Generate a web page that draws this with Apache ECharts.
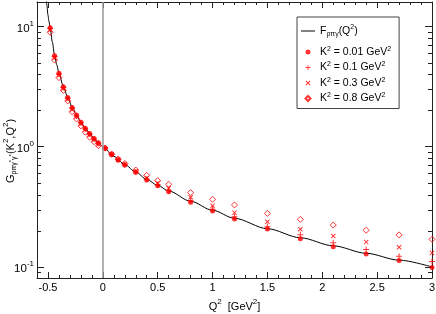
<!DOCTYPE html>
<html><head><meta charset="utf-8">
<script src="https://cdn.jsdelivr.net/npm/echarts@6/dist/echarts.min.js"></script>
<style>html,body{margin:0;padding:0;background:#fff}#c{width:436px;height:314px}</style>
</head><body><div id="c"></div>
<script>
// Q^2 values of the points [GeV^2]
const qPoints = [-0.48,-0.44,-0.40,-0.36,-0.32,-0.28,-0.24,-0.20,-0.16,-0.12,-0.08,-0.04,
  0.02,0.08,0.14,0.20,0.30,0.40,0.50,0.60,0.80,1.0,1.2,1.5,1.8,2.1,2.4,2.7,3.0];
const gK001 = [9.75,5.71,4.07,3.15,2.57,2.12,1.83,1.60,1.42,1.29,1.17,1.08,
  0.97,0.86,0.775,0.705,0.612,0.529,0.474,0.423,0.345,0.292,0.251,0.207,0.172,0.147,0.128,0.113,0.099];
const gK01 = [9.6,5.63,4.01,3.10,2.53,2.09,1.80,1.58,1.40,1.27,1.16,1.07,
  0.97,0.86,0.777,0.708,0.617,0.536,0.482,0.432,0.356,0.302,0.262,0.216,0.185,0.159,0.140,0.123,0.111];
const gK03 = [9.35,5.48,3.92,3.05,2.49,2.04,1.77,1.55,1.38,1.25,1.14,1.05,
  0.972,0.865,0.78,0.713,0.625,0.55,0.498,0.452,0.38,0.323,0.283,0.238,0.206,0.181,0.161,0.146,0.131];
const gK08 = [8.93,5.25,3.75,2.94,2.40,1.95,1.70,1.49,1.32,1.20,1.10,1.02,
  0.975,0.87,0.79,0.725,0.64,0.578,0.522,0.487,0.415,0.365,0.328,0.279,0.249,0.223,0.202,0.185,0.170];
// curve F(Q^2)
const curveQ = [-0.516,-0.51,-0.50,-0.49,-0.48,-0.46,-0.44,-0.42,-0.40,-0.36,-0.32,-0.28,-0.24,-0.20,-0.16,-0.12,-0.08,-0.04,0,
  0.1,0.2,0.3,0.4,0.5,0.6,0.8,1.0,1.2,1.5,1.8,2.1,2.4,2.7,3.0];
const curveF = [17,15.0,12.4,10.9,9.75,7.4,5.75,4.8,4.1,3.17,2.58,2.14,1.84,1.61,1.43,1.29,1.17,1.08,1.0,
  0.83,0.71,0.615,0.535,0.477,0.428,0.352,0.296,0.254,0.208,0.175,0.150,0.130,0.114,0.100];
// minor log ticks
const yMinorTicks = [0.09,0.2,0.3,0.4,0.5,0.6,0.7,0.8,0.9,2,3,4,5,6,7,8,9];

const FONT = "'Liberation Sans', Arial, Helvetica, sans-serif";
const X_MIN = -0.6, X_MAX = 3, Y_MIN = 0.081, Y_MAX = 15.95;
const AX = '#222';

const legendLabels = {
  'F': '{m|F}{sb|ρπγ}{m|(Q}{sp|2}{m|)}',
  'K001': '{k|K}{ku|2}{k| = 0.01 GeV}{ku|2}',
  'K01': '{k|K}{ku|2}{k| = 0.1 GeV}{ku|2}',
  'K03': '{k|K}{ku|2}{k| = 0.3 GeV}{ku|2}',
  'K08': '{k|K}{ku|2}{k| = 0.8 GeV}{ku|2}'
};

const pairs = arr => qPoints.map((q, i) => [q, arr[i]]);
const plusPath = 'path://M-3,-0.5H-0.5V-3H0.5V-0.5H3V0.5H0.5V3H-0.5V0.5H-3Z';
const crossPath = 'path://M0,0.7L0.7,0L5,4.3L4.3,5Z M4.3,0L5,0.7L0.7,5L0,4.3Z';
const diamondPath = 'path://M0,-3L3,0L0,3L-3,0Z';
const linePath = 'path://M0,0H14V1H0Z';

const xBase = {
  type: 'value', min: X_MIN, max: X_MAX, splitNumber: 7,
  axisLine: {show: true, onZero: false, lineStyle: {color: AX, width: 1}},
  axisTick: {show: true, inside: true, length: 6, lineStyle: {color: AX}},
  minorTick: {show: true, splitNumber: 5, length: 3, lineStyle: {color: AX}},
  splitLine: {show: false}
};
const yBase = {
  type: 'log', logBase: 10, min: Y_MIN, max: Y_MAX,
  axisLine: {show: true, onZero: false, lineStyle: {color: AX, width: 1}},
  axisTick: {show: true, inside: true, length: 7, lineStyle: {color: AX}},
  splitLine: {show: false}
};

const chart = echarts.init(document.getElementById('c'), null, {renderer: 'canvas'});
chart.setOption({
  animation: false,
  backgroundColor: '#fff',
  textStyle: {fontFamily: FONT},
  grid: {left: 37, right: 4, top: 2, bottom: 36, containLabel: false, outerBoundsMode: 'none'},
  xAxis: [
    Object.assign({}, xBase, {
      position: 'bottom',
      name: '{m|Q}{u|2}{m|  [GeV}{u|2}{m|]}',
      nameLocation: 'middle', nameGap: 20,
      nameTextStyle: {rich: {
        m: {fontSize: 11, color: '#000', fontFamily: FONT, lineHeight: 15, verticalAlign: 'top', padding: [3,0,0,0]},
        u: {fontSize: 8, color: '#000', fontFamily: FONT, lineHeight: 15, verticalAlign: 'top', padding: [0,0,0,0]}
      }},
      axisLabel: {show: true, color: '#000', fontSize: 11, fontFamily: FONT, margin: 4,
        showMinLabel: false}
    }),
    Object.assign({}, xBase, {position: 'top', axisLabel: {show: false}})
  ],
  yAxis: [
    Object.assign({}, yBase, {
      position: 'left',
      name: '{m|G}{sb|ρπγ}{ss|*}{sb|γ}{ss|*}{m|(K}{u|2}{m|,Q}{u|2}{m|)}',
      nameLocation: 'middle', nameGap: 19, nameMoveOverlap: false,
      nameTextStyle: {padding: [0, 22, 0, 0], rich: {
        m: {fontSize: 11, color: '#000', fontFamily: FONT, lineHeight: 17, verticalAlign: 'top', padding: [4,0,0,0]},
        u: {fontSize: 8, color: '#000', fontFamily: FONT, lineHeight: 17, verticalAlign: 'top', padding: [1,0,0,0]},
        sb: {fontSize: 7, color: '#000', fontFamily: FONT, lineHeight: 17, verticalAlign: 'top', padding: [10,0,0,0]},
        ss: {fontSize: 6, color: '#000', fontFamily: FONT, lineHeight: 17, verticalAlign: 'top', padding: [7,0,0,0]}
      }},
      axisLabel: {show: true, margin: 3,
        formatter: v => {
          const l = Math.log10(v), e = Math.round(l);
          if (Math.abs(l - e) > 1e-6) return '';
          return '{b|10}{e|' + e + '}';
        },
        rich: {
          b: {fontSize: 11.5, color: '#000', fontFamily: FONT, lineHeight: 16, verticalAlign: 'top', padding: [4,0,0,0]},
          e: {fontSize: 8, color: '#000', fontFamily: FONT, lineHeight: 16, verticalAlign: 'top', padding: [1,0,0,0]}
        }
      }
    }),
    Object.assign({}, yBase, {position: 'right', axisLabel: {show: false}})
  ],
  legend: {
    orient: 'vertical', left: 297, top: 17,
    padding: [2, 8, 3.5, 4],
    itemWidth: 14, itemHeight: 5, itemGap: 2.5,
    symbolKeepAspect: true,
    borderColor: '#444', borderWidth: 1, borderRadius: 0,
    backgroundColor: '#fff',
    selectedMode: false,
    data: [
      {name: 'F', icon: linePath, itemStyle: {color: '#000', borderWidth: 0}},
      {name: 'K001'}, {name: 'K01'}, {name: 'K03'},
      {name: 'K08', icon: diamondPath}
    ],
    formatter: name => legendLabels[name],
    textStyle: {fontFamily: FONT, color: '#000', backgroundColor: 'rgba(255,255,255,0)', rich: {
      m: {fontSize: 10.5, color: '#000', fontFamily: FONT, lineHeight: 24, verticalAlign: 'top', padding: [6.5,0,0,0]},
      sb: {fontSize: 7, color: '#000', fontFamily: FONT, lineHeight: 24, verticalAlign: 'top', padding: [12,0,0,0]},
      sp: {fontSize: 7, color: '#000', fontFamily: FONT, lineHeight: 24, verticalAlign: 'top', padding: [5,0,0,0]},
      k: {fontSize: 10.5, color: '#000', fontFamily: FONT, lineHeight: 13, verticalAlign: 'top', padding: [1,0,0,0]},
      ku: {fontSize: 7, color: '#000', fontFamily: FONT, lineHeight: 13, verticalAlign: 'top', padding: [0,0,0,0]}
    }}
  },
  series: [
    {
      type: 'custom', silent: true, xAxisIndex: 0, yAxisIndex: 0, z: 1,
      data: yMinorTicks.map(v => [0, v]),
      renderItem: (params, api) => {
        const y = Math.round(api.coord([0, api.value(1)])[1]) + 0.5;
        const cs = params.coordSys;
        return {type: 'group', children: [
          {type: 'line', shape: {x1: cs.x, y1: y, x2: cs.x + 4, y2: y}, style: {stroke: AX, lineWidth: 1}},
          {type: 'line', shape: {x1: cs.x + cs.width, y1: y, x2: cs.x + cs.width - 4, y2: y}, style: {stroke: AX, lineWidth: 1}}
        ]};
      }
    },
    {
      name: 'F', type: 'line', xAxisIndex: 0, yAxisIndex: 0,
      data: curveQ.map((q, i) => [q, curveF[i]]),
      symbol: 'none', smooth: 0.3, smoothMonotone: 'x',
      lineStyle: {color: '#000', width: 1}, itemStyle: {color: '#000'},
      z: 2,
      markLine: {
        silent: true, symbol: ['none', 'none'], label: {show: false},
        lineStyle: {color: '#999', width: 1.5, type: 'solid'},
        data: [{xAxis: 0}]
      }
    },
    {
      name: 'K08', type: 'scatter', data: pairs(gK08), symbol: 'diamond', symbolSize: 6,
      itemStyle: {color: 'rgba(255,255,255,0)', borderColor: '#ff0000', borderWidth: 1}, z: 3
    },
    {
      name: 'K03', type: 'scatter', data: pairs(gK03), symbol: crossPath, symbolSize: 5,
      itemStyle: {color: '#ff0000'}, z: 3
    },
    {
      name: 'K01', type: 'scatter', data: pairs(gK01), symbol: plusPath, symbolSize: 6,
      itemStyle: {color: '#ff0000'}, z: 3
    },
    {
      name: 'K001', type: 'scatter', data: pairs(gK001), symbol: 'circle', symbolSize: 5,
      itemStyle: {color: '#ff0000'}, z: 4
    }
  ]
});
</script>
</body></html>
